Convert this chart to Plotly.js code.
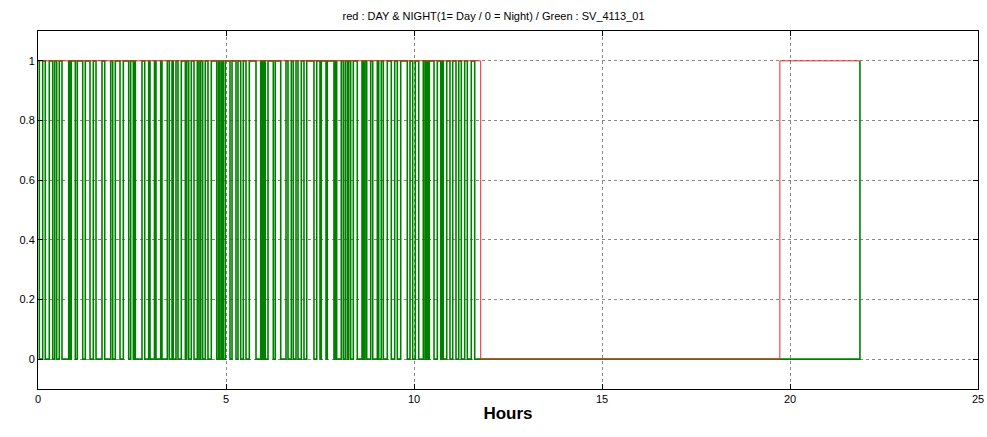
<!DOCTYPE html>
<html>
<head>
<meta charset="utf-8">
<script src="https://cdn.plot.ly/plotly-3.0.1.min.js"></script>
<style>html,body{margin:0;padding:0;background:#fff;}#chart{width:987px;height:437px;}</style>
</head>
<body>
<div id="chart"></div>
<script>
// Day/Night signal (red): step times (hours) and values
const redTimes = [0, 11.774, 19.73, 21.86];
const redValues = [1, 0, 1, 1];

// Green signal SV_4113_01: starts at 1, toggles at each listed time (hours)
const greenStart = 1;
const greenToggleTimes = [
  0.035, 0.125, 0.194, 0.300, 0.391, 0.444, 0.497, 0.566, 0.638, 0.816, 0.851, 0.886,
  0.992, 1.045, 1.189, 1.258, 1.383, 1.471, 1.543, 1.702, 1.774, 1.934,
  1.987, 2.056, 2.181, 2.269, 2.412, 2.465, 2.535, 2.561, 2.588, 2.766, 2.838, 2.944,
  2.979, 3.098, 3.138, 3.263, 3.298, 3.439, 3.492, 3.564, 3.598, 3.670, 3.723, 3.811, 3.918,
  3.955, 4.008, 4.077, 4.149, 4.237, 4.282, 4.327, 4.380, 4.449, 4.521, 4.609, 4.753,
  4.801, 4.840, 4.886, 4.928, 4.981, 5.106, 5.160, 5.266, 5.319, 5.391, 5.460, 5.532, 5.620, 5.798,
  5.923, 5.965, 6.005, 6.045, 6.117, 6.258, 6.311, 6.455, 6.596, 6.649, 6.737, 6.790,
  6.862, 6.915, 7.003, 7.074, 7.146, 7.340, 7.412, 7.500, 7.535, 7.660, 7.694,
  7.872, 7.907, 7.944, 8.066, 8.120, 8.173, 8.226, 8.263, 8.316, 8.386, 8.492, 8.617,
  8.657, 8.697, 8.742, 8.848, 8.902, 9.024, 9.062, 9.130, 9.184, 9.290, 9.396, 9.487, 9.556, 9.646,
  9.822, 9.894, 9.965, 10.035, 10.125, 10.247, 10.293, 10.332, 10.372, 10.407, 10.532, 10.620,
  10.710, 10.745, 10.779, 10.870, 10.957, 11.029, 11.117, 11.189, 11.258, 11.348, 11.418, 11.524, 11.614
];
const greenEndTime = 21.86;
const greenEndValue = 1;

const xTickVals = [0, 5, 10, 15, 20, 25];
const yTickVals = [0, 0.2, 0.4, 0.6, 0.8, 1];
const yTickText = ['0', '0.2', '0.4', '0.6', '0.8', '1'];

// build green step series from toggles
const gx = [0], gy = [greenStart];
let state = greenStart;
for (const t of greenToggleTimes) { state = 1 - state; gx.push(t); gy.push(state); }
gx.push(greenEndTime); gy.push(greenEndValue);

const traces = [
  {x: gx, y: gy, type: 'scatter', mode: 'lines', line: {shape: 'hv', color: 'rgb(0,128,0)', width: 1.6}, hoverinfo: 'skip'},
  {x: redTimes, y: redValues, type: 'scatter', mode: 'lines', line: {shape: 'hv', color: 'rgb(240,40,40)', width: 1}, hoverinfo: 'skip'}
];

const axisCommon = {
  showline: true, linecolor: '#000', linewidth: 1, mirror: 'ticks',
  ticks: 'inside', ticklen: 5, tickcolor: '#000', tickwidth: 1,
  showgrid: true, gridcolor: '#888', griddash: 'dot', gridwidth: 1,
  zeroline: false,
  tickfont: {family: 'Liberation Sans, Arial, sans-serif', size: 11, color: '#000'}
};

const layout = {
  width: 987, height: 437,
  margin: {l: 38, r: 9, t: 31, b: 48},
  paper_bgcolor: '#fff', plot_bgcolor: '#fff',
  showlegend: false,
  title: {text: 'red : DAY & NIGHT(1= Day / 0 = Night) / Green : SV_4113_01',
          font: {family: 'Liberation Sans, Arial, sans-serif', size: 11, color: '#000'},
          x: 0.5, xanchor: 'center', y: 0.963, yanchor: 'middle'},
  xaxis: Object.assign({}, axisCommon, {
    range: [0, 25], tickvals: xTickVals, ticktext: xTickVals.map(String),
    title: {text: '<b>Hours</b>', font: {family: 'Liberation Sans, Arial, sans-serif', size: 17, color: '#000'}, standoff: 2}
  }),
  yaxis: Object.assign({}, axisCommon, {
    range: [-0.1, 1.1], tickvals: yTickVals, ticktext: yTickText
  })
};

Plotly.newPlot('chart', traces, layout, {displayModeBar: false, staticPlot: true});
</script>
</body>
</html>
